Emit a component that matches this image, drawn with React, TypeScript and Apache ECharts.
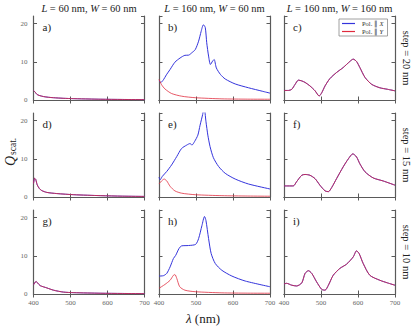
import React, { useEffect, useRef } from "react";
import * as echarts from "echarts";

// Scattering efficiency spectra, wavelength in nm.
// Columns: particle size; rows: discretisation step.

// a) L=60, W=60, step 20 (X and Y coincide)
const lamA = [400, 405, 409, 415, 427, 440, 454, 480, 509, 550, 582, 640, 700];
const qA = [2.5, 2.0, 1.5, 1.2, 0.9, 0.72, 0.6, 0.45, 0.35, 0.26, 0.2, 0.14, 0.1];

// b) L=160, W=60, step 20
const lamBx = [400, 405, 412, 420, 430, 443, 457, 470, 480, 489, 498, 507, 514, 520, 525, 529, 534, 539, 545, 549, 555, 566, 579, 606, 642, 679, 700];
const qBx = [5.0, 4.6, 5.3, 6.6, 8.0, 9.9, 11.0, 11.7, 11.75, 12.4, 13.2, 15.4, 18.0, 19.7, 19.0, 15.0, 11.5, 9.3, 10.2, 10.6, 8.4, 6.7, 5.5, 4.2, 3.2, 2.3, 1.8];
const lamBy = [400, 407, 416, 434, 461, 498, 570, 640, 700];
const qBy = [5.4, 4.0, 2.9, 1.7, 1.0, 0.6, 0.3, 0.22, 0.2];

// c) L=160, W=160, step 20 (X and Y coincide)
const lamC = [400, 412, 421, 430, 439, 448, 457, 470, 484, 495, 502, 511, 524, 542, 560, 578, 587, 596, 605, 619, 637, 659, 680, 700];
const qC = [2.5, 2.5, 2.8, 4.1, 5.2, 5.0, 4.6, 3.7, 2.4, 1.05, 1.9, 3.7, 5.6, 7.2, 8.5, 10.1, 10.7, 10.1, 8.5, 5.9, 4.1, 3.2, 2.8, 2.4];

// d) L=60, W=60, step 15
const lamD = [400, 403, 406, 410, 416, 422, 436, 463, 509, 582, 640, 700];
const qD = [3.5, 4.9, 4.6, 3.2, 2.2, 1.7, 1.2, 0.9, 0.6, 0.35, 0.22, 0.15];

// e) L=160, W=60, step 15
const lamEx = [400, 403, 409, 421, 434, 448, 461, 475, 484, 489, 496, 505, 511, 518, 522, 527, 532, 538, 547, 561, 579, 606, 642, 700];
const qEx = [5.2, 4.5, 5.4, 6.7, 8.4, 10.6, 12.7, 13.6, 14.0, 13.6, 14.5, 16.2, 18.8, 21.6, 23.5, 19.7, 16.2, 13.2, 10.3, 8.0, 6.2, 4.7, 3.4, 2.1];
const lamEy = [400, 407, 414, 421, 430, 443, 461, 498, 570, 640, 700];
const qEy = [3.4, 4.2, 4.7, 4.2, 2.8, 1.6, 1.0, 0.6, 0.35, 0.25, 0.2];

// f) L=160, W=160, step 15 (X and Y coincide)
const lamF = [400, 425, 434, 448, 457, 470, 484, 497, 511, 520, 529, 542, 560, 574, 586, 596, 605, 619, 641, 668, 700];
const qF = [2.9, 2.9, 4.0, 5.7, 5.9, 5.7, 4.8, 3.1, 1.6, 1.4, 2.5, 4.8, 7.9, 10.0, 11.3, 10.5, 8.7, 6.6, 5.0, 4.2, 3.1];

// g) L=60, W=60, step 10
const lamG = [400, 407, 411, 418, 436, 454, 481, 509, 582, 640, 700];
const qG = [2.4, 3.3, 2.9, 2.2, 1.6, 1.0, 0.5, 0.35, 0.2, 0.14, 0.1];

// h) L=160, W=60, step 10
const lamHx = [400, 412, 421, 430, 439, 445, 454, 461, 480, 499, 507, 516, 523, 527, 534, 541, 552, 570, 597, 633, 700];
const qHx = [4.7, 4.8, 5.4, 7.1, 9.3, 10.1, 11.9, 12.6, 12.7, 13.0, 14.5, 17.9, 20.3, 19.2, 14.5, 10.6, 8.0, 6.2, 4.7, 3.4, 1.9];
const lamHy = [400, 416, 430, 439, 443, 448, 456, 470, 498, 570, 640, 700];
const qHy = [1.5, 2.5, 3.6, 4.9, 5.1, 4.1, 1.9, 1.0, 0.6, 0.3, 0.22, 0.2];

// i) L=160, W=160, step 10 (X and Y coincide)
const lamI = [400, 407, 421, 434, 448, 457, 466, 475, 488, 502, 511, 520, 533, 551, 569, 587, 596, 603, 614, 632, 659, 680, 700];
const qI = [2.6, 2.8, 2.3, 2.1, 2.9, 5.4, 6.1, 5.4, 3.2, 1.2, 1.0, 2.3, 4.9, 6.7, 7.8, 9.7, 11.3, 10.6, 8.0, 4.9, 3.6, 2.9, 2.3];

const panelLabels = ["a)", "b)", "c)", "d)", "e)", "f)", "g)", "h)", "i)"];
const columnTitles = [
  "{i|L} = 60 nm, {i|W} = 60 nm",
  "{i|L} = 160 nm, {i|W} = 60 nm",
  "{i|L} = 160 nm, {i|W} = 160 nm",
];
const rowTitles = ["step = 20 nm", "step = 15 nm", "step = 10 nm"];

const panels: { x: [number[], number[]]; y: [number[], number[]] }[] = [
  { x: [lamA, qA], y: [lamA, qA] },
  { x: [lamBx, qBx], y: [lamBy, qBy] },
  { x: [lamC, qC], y: [lamC, qC] },
  { x: [lamD, qD], y: [lamD, qD] },
  { x: [lamEx, qEx], y: [lamEy, qEy] },
  { x: [lamF, qF], y: [lamF, qF] },
  { x: [lamG, qG], y: [lamG, qG] },
  { x: [lamHx, qHx], y: [lamHy, qHy] },
  { x: [lamI, qI], y: [lamI, qI] },
];

const SERIF = "Liberation Serif";
const FRAME = "#5a5a5a";
const BLUE = "#3434dc";
const RED = "#e02a3c";

const colLeft = [33.5, 159, 284];
const rowTop = [16, 113, 210];
const PW = 111;
const PH = 84;

const zip = (a: number[], b: number[]) => a.map((v, i) => [v, b[i]]);

export default function App() {
  const ref = useRef<HTMLDivElement>(null);

  useEffect(() => {
    if (!ref.current) return;
    const chart = echarts.init(ref.current, null, { renderer: "svg" });

    const grid: any[] = [];
    const xAxis: any[] = [];
    const yAxis: any[] = [];
    const series: any[] = [];
    const graphic: any[] = [];

    panels.forEach((p, i) => {
      const r = Math.floor(i / 3);
      const c = i % 3;
      grid.push({ left: colLeft[c], top: rowTop[r], width: PW, height: PH, show: false });
      const line = { show: true, lineStyle: { color: FRAME, width: 1.2 } };
      const tick = { show: true, inside: true, length: 3.5, lineStyle: { color: FRAME, width: 1 } };
      xAxis.push({
        type: "value", gridIndex: i, min: 400, max: 700, interval: 100, position: "bottom",
        axisLine: line, axisTick: tick, splitLine: { show: false },
        axisLabel: { show: r === 2, fontSize: 7, color: "#666", fontFamily: SERIF, margin: 5 },
      });
      xAxis.push({
        type: "value", gridIndex: i, min: 400, max: 700, interval: 100, position: "top",
        axisLine: line, axisTick: tick, splitLine: { show: false }, axisLabel: { show: false },
      });
      yAxis.push({
        type: "value", gridIndex: i, min: 0, max: 22, interval: 10, position: "left",
        axisLine: line, axisTick: tick, splitLine: { show: false },
        axisLabel: { show: c === 0, showMaxLabel: false, fontSize: 7, color: "#666", fontFamily: SERIF, margin: 6 },
      });
      yAxis.push({
        type: "value", gridIndex: i, min: 0, max: 22, interval: 10, position: "right",
        axisLine: line, axisTick: tick, splitLine: { show: false }, axisLabel: { show: false },
      });
      series.push({
        type: "line", name: "Pol. ∥ X", xAxisIndex: 2 * i, yAxisIndex: 2 * i,
        data: zip(p.x[0], p.x[1]), showSymbol: false, smooth: 0.25,
        lineStyle: { color: BLUE, width: 1 }, itemStyle: { color: BLUE },
      });
      series.push({
        type: "line", name: "Pol. ∥ Y", xAxisIndex: 2 * i, yAxisIndex: 2 * i,
        data: zip(p.y[0], p.y[1]), showSymbol: false, smooth: 0.25,
        lineStyle: { color: RED, width: 1, opacity: 0.78 }, itemStyle: { color: RED },
      });
      graphic.push({
        type: "text", left: colLeft[c] + 9, top: rowTop[r] + 5,
        style: { text: panelLabels[i], fontSize: 11, fontFamily: SERIF, fill: "#222" },
      });
    });

    columnTitles.forEach((t, c) => {
      graphic.push({
        type: "text", x: colLeft[c] + PW / 2, y: 8,
        style: {
          text: t, fontSize: 10.5, fontFamily: SERIF, fill: "#222", align: "center", verticalAlign: "middle",
          rich: { i: { fontStyle: "italic", fontSize: 10.5, fontFamily: SERIF, fill: "#222" } },
        },
      });
    });

    rowTitles.forEach((t, r) => {
      graphic.push({
        type: "text", x: 406, y: rowTop[r] + PH / 2, rotation: -Math.PI / 2,
        style: { text: t, fontSize: 10.5, fontFamily: SERIF, fill: "#222", align: "center", verticalAlign: "middle" },
      });
    });

    // y-axis title: Q with subscript "scat."
    graphic.push({
      type: "group", x: 10, y: 150, rotation: Math.PI / 2,
      children: [
        { type: "text", x: -16, y: 0, style: { text: "Q", fontSize: 14, fontStyle: "italic", fontFamily: SERIF, fill: "#222", verticalAlign: "middle" } },
        { type: "text", x: -5, y: 3, style: { text: "scat.", fontSize: 9.5, fontFamily: SERIF, fill: "#222", verticalAlign: "middle" } },
      ],
    });

    // x-axis title
    graphic.push({
      type: "text", x: 203, y: 318,
      style: {
        text: "{i|λ} (nm)", fontSize: 13, fontFamily: SERIF, fill: "#222", align: "center", verticalAlign: "middle",
        rich: { i: { fontStyle: "italic", fontSize: 13, fontFamily: SERIF, fill: "#222" } },
      },
    });

    chart.setOption({
      animation: false,
      backgroundColor: "#fff",
      grid, xAxis, yAxis, series, graphic,
      legend: {
        data: ["Pol. ∥ X", "Pol. ∥ Y"],
        orient: "vertical", left: 339, top: 19,
        icon: "rect", itemWidth: 13, itemHeight: 1.2, itemGap: 1,
        padding: [1, 4, 1, 3],
        borderColor: "#888", borderWidth: 0.8, backgroundColor: "#fff",
        formatter: (n: string) => n.replace(/(X|Y)$/, "{i|$1}"),
        textStyle: {
          fontSize: 6.5, fontFamily: SERIF, color: "#333", padding: [0, 0, 0, 2],
          rich: { i: { fontStyle: "italic", fontSize: 6.5, fontFamily: SERIF, color: "#333" } },
        },
      },
    });

    return () => chart.dispose();
  }, []);

  return <div ref={ref} style={{ position: "fixed", left: 0, top: 0, width: 415, height: 329 }} />;
}
